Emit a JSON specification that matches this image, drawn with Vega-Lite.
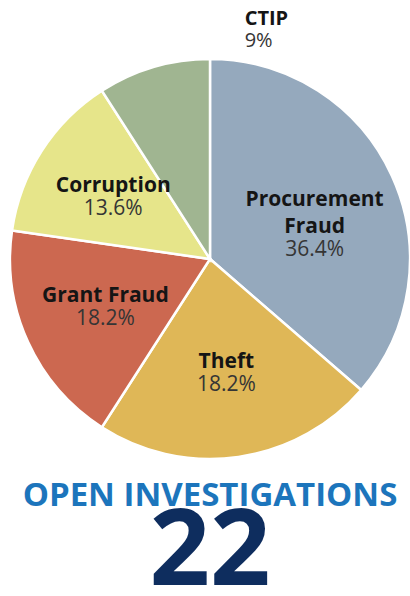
{
  "$schema": "https://vega.github.io/schema/vega-lite/v6.json",
  "width": 400,
  "height": 400,
  "autosize": {"type": "none"},
  "padding": {"left": 10, "top": 59, "right": 0, "bottom": 137},
  "background": "white",
  "view": {"stroke": null},
  "title": {
    "text": "OPEN INVESTIGATIONS",
    "subtitle": "22",
    "orient": "bottom",
    "anchor": "middle",
    "offset": 16,
    "font": "Open Sans",
    "fontSize": 33,
    "fontWeight": "bold",
    "color": "#1c75bc",
    "subtitleFont": "Open Sans",
    "subtitleFontSize": 106,
    "subtitleFontWeight": "bold",
    "subtitleColor": "#0e2d5e",
    "subtitlePadding": -12
  },
  "data": {
    "values": [
      {"category": "Procurement Fraud", "name": "Procurement\nFraud", "count": 8, "pct": "36.4%"},
      {"category": "Theft", "name": "Theft", "count": 5, "pct": "18.2%"},
      {"category": "Grant Fraud", "name": "Grant Fraud", "count": 4, "pct": "18.2%"},
      {"category": "Corruption", "name": "Corruption", "count": 3, "pct": "13.6%"},
      {"category": "CTIP", "name": "CTIP", "count": 2, "pct": "9%"}
    ]
  },
  "transform": [
    {"stack": "count", "groupby": [], "sort": [{"field": "count", "order": "descending"}], "as": ["t0", "t1"]},
    {"calculate": "(datum.t0 + datum.t1) / 2", "as": "tmid"},
    {"calculate": "replace(datum.name, regexp('[^\\n]+', 'g'), '') + datum.pct", "as": "pctText"}
  ],
  "layer": [
    {
      "mark": {"type": "arc", "outerRadius": 200, "stroke": "white", "strokeWidth": 2.5},
      "encoding": {
        "theta": {"field": "t0", "type": "quantitative", "stack": null, "scale": {"domain": [0, 22], "nice": false, "zero": true}},
        "theta2": {"field": "t1"},
        "color": {
          "field": "category",
          "type": "nominal",
          "scale": {
            "domain": ["Procurement Fraud", "Theft", "Grant Fraud", "Corruption", "CTIP"],
            "range": ["#95a9bd", "#dfb757", "#cc6850", "#e6e58a", "#a0b591"]
          },
          "legend": null
        }
      }
    },
    {
      "transform": [{"filter": "datum.category != 'CTIP'"}],
      "mark": {"type": "text", "radius": 115, "dy": -1, "font": "Open Sans", "fontSize": 21, "fontWeight": "bold", "color": "#151515", "baseline": "bottom", "align": "center", "lineBreak": "\n", "lineHeight": 27},
      "encoding": {
        "theta": {"field": "tmid", "type": "quantitative", "stack": null, "scale": {"domain": [0, 22], "nice": false, "zero": true}},
        "text": {"field": "name"}
      }
    },
    {
      "transform": [{"filter": "datum.category != 'CTIP'"}],
      "mark": {"type": "text", "radius": 115, "dy": 1, "font": "Open Sans", "fontSize": 21, "color": "#353535", "baseline": "top", "align": "center", "lineBreak": "\n", "lineHeight": 27},
      "encoding": {
        "theta": {"field": "tmid", "type": "quantitative", "stack": null, "scale": {"domain": [0, 22], "nice": false, "zero": true}},
        "text": {"field": "pctText"}
      }
    },
    {
      "transform": [{"filter": "datum.category == 'CTIP'"}],
      "mark": {"type": "text", "radius": 239, "dx": 102, "dy": -1, "font": "Open Sans", "fontSize": 20, "fontWeight": "bold", "color": "#151515", "baseline": "bottom", "align": "left"},
      "encoding": {
        "theta": {"field": "tmid", "type": "quantitative", "stack": null, "scale": {"domain": [0, 22], "nice": false, "zero": true}},
        "text": {"field": "name"}
      }
    },
    {
      "transform": [{"filter": "datum.category == 'CTIP'"}],
      "mark": {"type": "text", "radius": 239, "dx": 102, "dy": 1, "font": "Open Sans", "fontSize": 20, "color": "#353535", "baseline": "top", "align": "left"},
      "encoding": {
        "theta": {"field": "tmid", "type": "quantitative", "stack": null, "scale": {"domain": [0, 22], "nice": false, "zero": true}},
        "text": {"field": "pct"}
      }
    }
  ]
}
